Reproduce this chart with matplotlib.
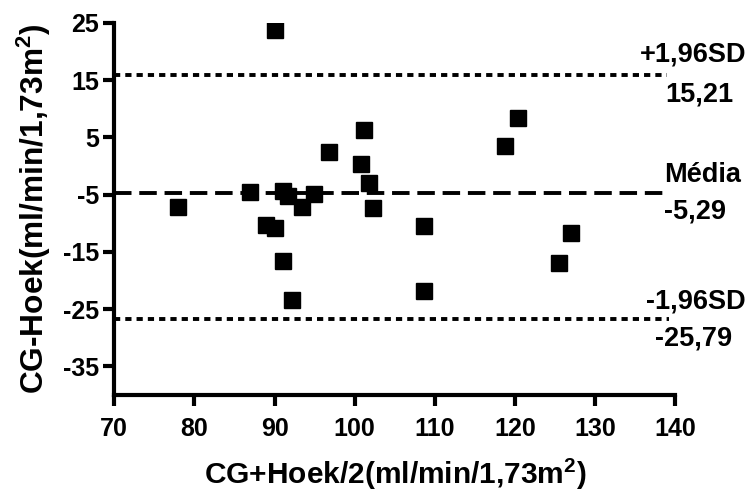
import matplotlib
matplotlib.use("Agg")
import matplotlib.pyplot as plt

plt.rcParams['font.family'] = ['Liberation Sans', 'DejaVu Sans']
plt.rcParams['font.weight'] = 'bold'
plt.rcParams['axes.labelweight'] = 'bold'
plt.rcParams['axes.unicode_minus'] = False
plt.rcParams['mathtext.fontset'] = 'custom'
plt.rcParams['mathtext.rm'] = 'Liberation Sans:bold'
plt.rcParams['mathtext.bf'] = 'Liberation Sans:bold'
plt.rcParams['mathtext.default'] = 'bf'

# Bland-Altman data: mean of methods vs difference
media = [90.1, 77.9, 86.9, 91.1, 91.7, 93.4, 94.9, 88.9, 90.1, 96.8,
         101.2, 100.8, 101.8, 102.3, 91.0, 92.2, 120.4, 118.8, 108.6,
         108.6, 127.0, 125.5]
diferenca = [23.8, -7.1, -4.5, -4.3, -5.2, -7.1, -4.9, -10.4, -10.8, 2.5,
             6.2, 0.3, -3.0, -7.3, -16.6, -23.4, 8.4, 3.5, -10.5,
             -21.8, -11.7, -16.9]

# reference lines as drawn: upper limit, mean, lower limit
linhas = [15.8, -4.8, -26.7]
rotulos = [("+1,96SD", "15,21"), ("Média", "-5,29"), ("-1,96SD", "-25,79")]

fig = plt.figure(figsize=(7.52, 4.95), dpi=100)
ax = fig.add_axes([0.152, 0.202, 0.746, 0.752])

ax.plot(media, diferenca, 's', color='black', markersize=11.5, zorder=3)

ax.plot([70, 139], [linhas[0], linhas[0]], color='black', lw=2.8,
        linestyle=(0, (1.6, 1.3)))
ax.plot([70, 139.2], [linhas[1], linhas[1]], color='black', lw=2.8,
        linestyle=(0, (4.5, 2.0)))
ax.plot([70, 139.2], [linhas[2], linhas[2]], color='black', lw=2.8,
        linestyle=(0, (1.6, 1.3)))

fs = 19.5
ax.annotate(rotulos[0][0], (148.9, linhas[0]), xytext=(0, 6), textcoords='offset points',
            ha='right', va='bottom', fontsize=fs, annotation_clip=False)
ax.annotate(rotulos[0][1], (138.7, linhas[0]), xytext=(0, -4), textcoords='offset points',
            ha='left', va='top', fontsize=fs, annotation_clip=False)
ax.annotate(rotulos[1][0], (138.6, linhas[1]), xytext=(0, 4), textcoords='offset points',
            ha='left', va='bottom', fontsize=fs, annotation_clip=False)
ax.annotate(rotulos[1][1], (138.6, linhas[1]), xytext=(0, -4), textcoords='offset points',
            ha='left', va='top', fontsize=fs, annotation_clip=False)
ax.annotate(rotulos[2][0], (148.8, linhas[2]), xytext=(0, 3), textcoords='offset points',
            ha='right', va='bottom', fontsize=fs, annotation_clip=False)
ax.annotate(rotulos[2][1], (137.5, linhas[2]), xytext=(0, -5), textcoords='offset points',
            ha='left', va='top', fontsize=fs, annotation_clip=False)

ax.set_xlim(70, 140)
ax.set_ylim(-40, 25)
ax.set_xticks([70, 80, 90, 100, 110, 120, 130, 140])
ax.set_yticks([25, 15, 5, -5, -15, -25, -35])

for s in ['top', 'right']:
    ax.spines[s].set_visible(False)
for s in ['left', 'bottom']:
    ax.spines[s].set_linewidth(3)
ax.tick_params(axis='both', width=3, length=8, labelsize=18, pad=3)
ax.tick_params(axis='x', pad=8)

ax.set_xlabel('CG+Hoek/2(ml/min/1,73m$^{2}$)', fontsize=21.5, labelpad=11)
ax.set_ylabel('CG-Hoek(ml/min/1,73m$^{2}$)', fontsize=22.8, labelpad=7)

fig.savefig('out.png', dpi=100)
